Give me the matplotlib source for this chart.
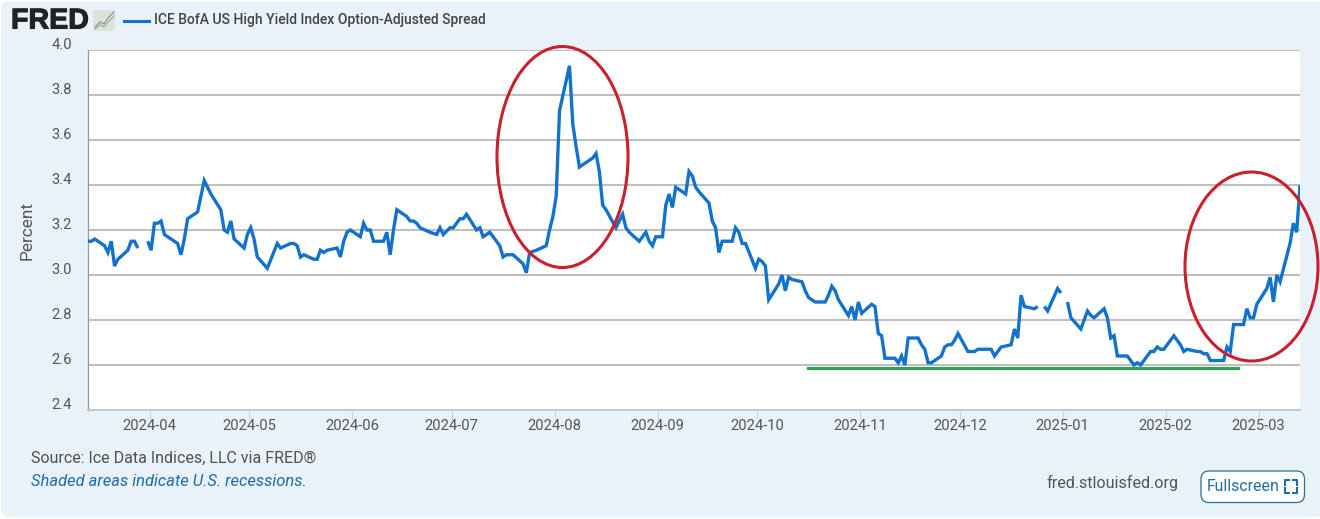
import matplotlib
matplotlib.use('Agg')
import matplotlib.pyplot as plt
import matplotlib.dates as mdates
import matplotlib.patheffects as pe
from matplotlib.patches import Ellipse, FancyBboxPatch, Rectangle
from matplotlib.lines import Line2D
from matplotlib.transforms import Affine2D, ScaledTranslation
import pandas as pd
import numpy as np

nan = np.nan

# month-end weekend prints are in the series, holidays with no print are nan
dates_2024 = [
    '03-13','03-14','03-15','03-18','03-19','03-20','03-21','03-22','03-25','03-26','03-27','03-28','03-29','03-31',
    '04-01','04-02','04-03','04-04','04-05','04-08','04-09','04-10','04-11','04-12','04-15','04-16','04-17','04-18','04-19','04-22','04-23','04-24','04-25','04-26','04-29','04-30',
    '05-01','05-02','05-03','05-06','05-09','05-10','05-13','05-14','05-15','05-16','05-17','05-20','05-21','05-22','05-23','05-24','05-27','05-28','05-29','05-30','05-31',
    '06-03','06-04','06-05','06-06','06-07','06-10','06-11','06-12','06-13','06-14','06-17','06-18','06-19','06-20','06-21','06-24','06-25','06-26','06-27','06-28','06-30',
    '07-01','07-02','07-03','07-04','07-05','07-08','07-09','07-10','07-11','07-12','07-15','07-16','07-17','07-18','07-19','07-22','07-23','07-24','07-26','07-29','07-30','07-31',
    '08-01','08-02','08-05','08-06','08-07','08-08','08-09','08-12','08-13','08-14','08-15','08-16','08-19','08-20','08-21','08-22','08-23','08-26','08-27','08-28','08-29','08-30','08-31',
    '09-02','09-03','09-04','09-05','09-06','09-09','09-10','09-11','09-12','09-13','09-16','09-17','09-18','09-19','09-20','09-23','09-24','09-25','09-26','09-27','09-30',
    '10-01','10-02','10-03','10-04','10-07','10-08','10-09','10-10','10-11','10-14','10-15','10-16','10-17','10-18','10-21','10-22','10-23','10-24','10-25','10-28','10-29','10-30','10-31',
    '11-01','11-04','11-05','11-06','11-07','11-08','11-11','11-12','11-13','11-14','11-15','11-18','11-19','11-20','11-21','11-22','11-25','11-26','11-27','11-28','11-29','11-30',
    '12-03','12-04','12-05','12-06','12-09','12-10','12-11','12-12','12-13','12-16','12-17','12-18','12-19','12-20','12-23','12-24','12-25','12-26','12-27','12-30','12-31',
]
spread_2024 = [
    3.15,3.15,3.16,3.13,3.10,3.15,3.04,3.07,3.11,3.15,3.15,3.12,nan,3.15,
    3.11,3.23,3.23,3.24,3.18,3.15,3.14,3.09,3.16,3.25,3.28,3.35,3.42,3.39,3.36,3.29,3.20,3.19,3.24,3.16,3.12,3.18,
    3.21,3.16,3.08,3.03,3.14,3.12,3.14,3.14,3.13,3.08,3.09,3.07,3.07,3.11,3.10,3.11,3.12,3.08,3.15,3.19,3.20,
    3.17,3.23,3.20,3.20,3.15,3.15,3.19,3.09,3.20,3.29,3.26,3.24,3.24,3.23,3.21,3.19,3.185,3.18,3.21,3.18,3.21,
    3.21,3.23,3.25,3.25,3.27,3.20,3.21,3.17,3.18,3.19,3.13,3.08,3.09,3.09,3.09,3.05,3.01,3.10,3.11,3.13,3.20,3.26,
    3.35,3.73,3.93,3.67,3.57,3.48,3.49,3.52,3.54,3.46,3.31,3.29,3.21,3.24,3.27,3.21,3.19,3.15,3.17,3.19,3.15,3.13,3.17,
    3.17,3.31,3.36,3.30,3.39,3.36,3.46,3.44,3.39,3.37,3.32,3.24,3.21,3.10,3.15,3.15,3.21,3.19,3.14,3.14,3.03,
    3.07,3.06,3.04,2.89,2.96,3.00,2.93,2.99,2.98,2.97,2.93,2.90,2.89,2.88,2.88,2.91,2.95,2.93,2.89,2.82,2.86,2.80,2.88,
    2.83,2.87,2.86,2.74,2.73,2.63,2.63,2.61,2.64,2.60,2.72,2.72,2.69,2.67,2.61,2.61,2.64,2.68,2.69,2.69,2.71,2.74,
    2.66,2.66,2.66,2.67,2.67,2.67,2.64,2.66,2.68,2.69,2.76,2.72,2.91,2.86,2.85,2.86,nan,2.86,2.84,2.94,2.92,
]
dates_2025 = [
    '01-01','01-02','01-03','01-06','01-07','01-08','01-09','01-10','01-13','01-14','01-15','01-16','01-17','01-20','01-21','01-22','01-23','01-24','01-27','01-28','01-29','01-30','01-31',
    '02-03','02-04','02-05','02-06','02-07','02-10','02-11','02-12','02-13','02-14','02-17','02-18','02-19','02-20','02-21','02-24','02-25','02-26','02-27','02-28',
    '03-03','03-04','03-05','03-06','03-07','03-10','03-11','03-12','03-13',
]
spread_2025 = [
    nan,2.88,2.81,2.76,2.80,2.84,2.82,2.81,2.85,2.81,2.72,2.73,2.64,2.64,2.62,2.60,2.61,2.60,2.66,2.66,2.68,2.67,2.67,
    2.73,2.71,2.69,2.66,2.67,2.66,2.66,2.65,2.65,2.62,2.62,2.62,2.68,2.66,2.78,2.78,2.85,2.81,2.81,2.87,
    2.94,2.99,2.88,3.00,2.97,3.14,3.23,3.19,3.40,
]
y_ticks = [2.4, 2.6, 2.8, 3.0, 3.2, 3.4, 3.6, 3.8, 4.0]
month_ticks = ['2024-04','2024-05','2024-06','2024-07','2024-08','2024-09','2024-10','2024-11','2024-12','2025-01','2025-02','2025-03']
series_name = 'ICE BofA US High Yield Index Option-Adjusted Spread'

plt.rcParams['font.family'] = ['Roboto', 'DejaVu Sans']

W, H = 1320, 519
panel = '#e9f1f9'
blue = '#1272cc'
grey_text = '#555555'
link = '#1f6ea8'
red = '#cc1f2d'
green = '#2ea550'

fig = plt.figure(figsize=(W / 100, H / 100), dpi=100, facecolor='white')
# figure annotations are placed in pixels from the top left
px = Affine2D().scale(1, -1).translate(0, H)

fig.add_artist(FancyBboxPatch((4, 4), W - 4, H - 9, boxstyle='round,pad=0,rounding_size=5', mutation_scale=1,
                              transform=px, fc=panel, ec=panel, lw=4, zorder=-5))

ax = fig.add_axes([88 / W, 1 - 410 / H, 1212 / W, 360 / H])
dates = pd.to_datetime(['2024-' + d for d in dates_2024] + ['2025-' + d for d in dates_2025])
spread = spread_2024 + spread_2025
ax.plot(dates, spread, color=blue, lw=2.4, solid_joinstyle='miter', solid_capstyle='butt', zorder=3)

ax.set_xlim(pd.Timestamp('2024-03-13'), pd.Timestamp('2025-03-13'))
ax.set_ylim(2.4, 4.0)
ax.set_yticks(y_ticks)
ax.set_yticklabels(['%.1f' % v for v in y_ticks])
ax.set_xticks(mdates.date2num(pd.to_datetime(month_ticks)) - 0.45)
ax.set_xticklabels(month_ticks)
ax.grid(True, axis='y', color='#c0c0c0', lw=1.5, zorder=1)
ax.set_axisbelow(True)
for s in ['top', 'right']:
    ax.spines[s].set_visible(False)
ax.spines['left'].set_color('#9a9a9a')
ax.spines['left'].set_linewidth(0.9)
ax.spines['bottom'].set_color('#c4c8d4')
ax.spines['bottom'].set_linewidth(1.4)
ax.tick_params(axis='y', length=0, pad=11.5, labelsize=10.6, labelcolor=grey_text)
ax.tick_params(axis='x', length=7.5, width=0.8, color='#c8d6e6', pad=-1, labelsize=10.6, labelcolor=grey_text)
# y labels sit above their gridlines
for lab in ax.get_yticklabels():
    lab.set_transform(lab.get_transform() + ScaledTranslation(0, 5 / 72, fig.dpi_scale_trans))
ax.set_ylabel('Percent', fontsize=12.4, color=grey_text, labelpad=0)
ax.yaxis.set_label_coords((35 - 88) / 1212, 0.5)

# hand-drawn highlights over the chart
for cx, cy, w, h in [(562.5, 157, 131, 221), (1251.5, 266.5, 133, 189)]:
    fig.add_artist(Ellipse((cx, cy), w, h, transform=px, fc='none', ec=red, lw=2.2, zorder=6))
fig.add_artist(Line2D([808, 1238], [368, 368], transform=px, color=green, lw=2.3, zorder=6))

# logo and legend row
fig.text(11, 20.5, 'FRED', transform=px, fontsize=20.6, fontweight='bold', family='Liberation Sans', color='#222222',
         va='center', ha='left', path_effects=[pe.withStroke(linewidth=0.8, foreground='#222222')])
fig.add_artist(Rectangle((93, 10), 22, 21, transform=px, fc='#dde3da', ec='none'))
fig.add_artist(Line2D([95, 100, 104, 108, 114], [27, 22, 24, 18, 12], transform=px, color='#82a37f', lw=0.9))
fig.add_artist(Line2D([95, 100, 104, 108, 114], [29, 25, 27, 22, 16], transform=px, color='#94a9ba', lw=0.9))
fig.add_artist(Line2D([124, 149], [21, 21], transform=px, color=blue, lw=2.2))
fig.text(153.5, 20, series_name, transform=px, fontsize=10, fontweight='medium', color='#444444', va='center', ha='left')

# footer
fig.text(31, 458, 'Source: Ice Data Indices, LLC via FRED®', transform=px, fontsize=11.5, color='#505050', va='center')
fig.text(31, 481, 'Shaded areas indicate U.S. recessions.', transform=px, fontsize=11.9, style='italic', color=link, va='center')
fig.text(1046, 483, 'fred.stlouisfed.org', transform=px, fontsize=11.6, color=grey_text, va='center')

fig.add_artist(FancyBboxPatch((1201, 471), 103.5, 31.5, boxstyle='round,pad=0,rounding_size=8', mutation_scale=1,
                              transform=px, fc='white', ec='#2a6f9e', lw=0.9))
fig.text(1207, 486.5, 'Fullscreen', transform=px, fontsize=11.4, color=link, va='center')
for x0, y0, dx, dy in [(1285, 485, 1, -1), (1297, 485, -1, -1), (1285, 488, 1, 1), (1297, 488, -1, 1)]:
    fig.add_artist(Line2D([x0 + 4 * dx, x0, x0], [y0 + 5 * dy, y0 + 5 * dy, y0], transform=px, color=link, lw=1.5))

fig.savefig('out.png', dpi=100, facecolor=fig.get_facecolor())
